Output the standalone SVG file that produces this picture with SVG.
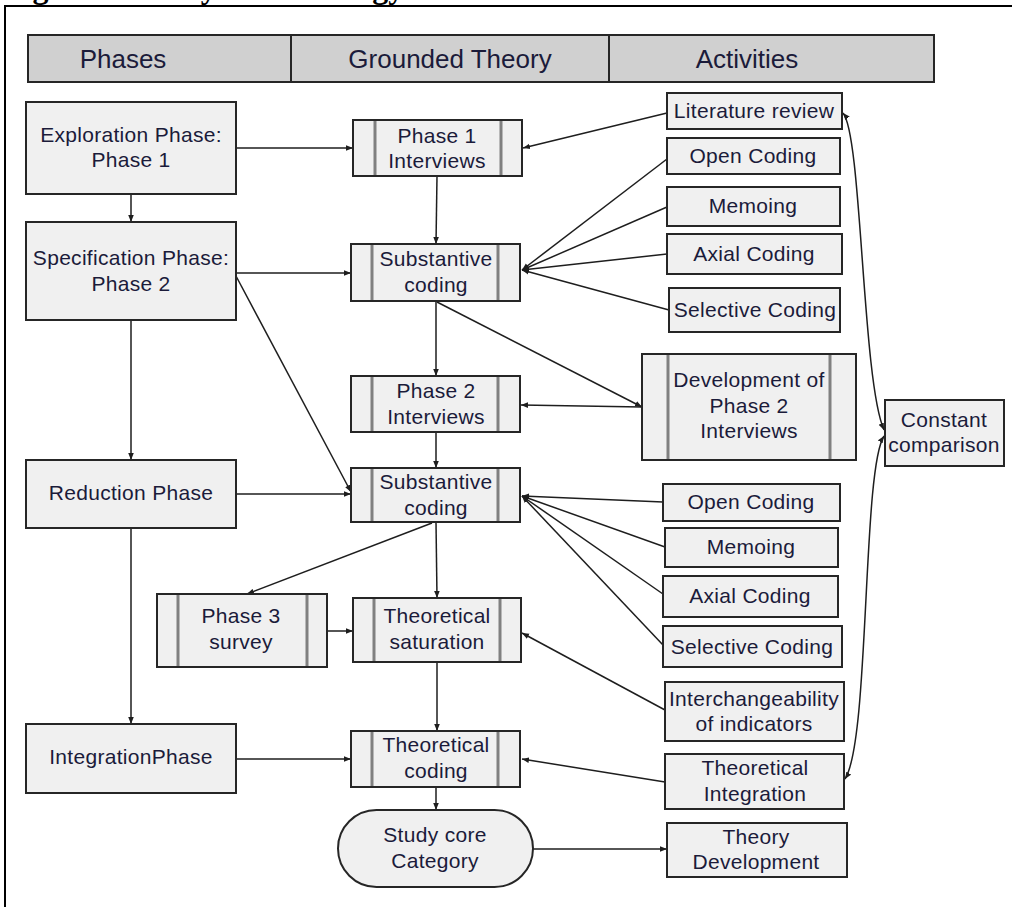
<svg xmlns="http://www.w3.org/2000/svg" width="1012" height="907" viewBox="0 0 1012 907">
<style>
.bx{fill:#f0f0f0;stroke:#262626;stroke-width:2}
.hd{fill:#d0d0d0;stroke:#262626;stroke-width:2}
.bar{stroke:#808080;stroke-width:3}
.c{fill:none;stroke:#1e1e1e;stroke-width:1.5}
.t{font-family:"Liberation Sans",Arial,sans-serif;font-size:21px;fill:#1b1b3a;text-anchor:middle;letter-spacing:0.3px}
.h{font-family:"Liberation Sans",Arial,sans-serif;font-size:26px;fill:#1b1b3a;text-anchor:middle}
.ttl{font-family:"Liberation Serif","Times New Roman",serif;font-size:32px;font-weight:bold;fill:#000}
</style>
<defs>
<marker id="ah" viewBox="0 0 10 10" refX="10" refY="5" markerWidth="7" markerHeight="7" markerUnits="userSpaceOnUse" orient="auto-start-reverse">
<path d="M0,1 L10,5 L0,9 z" fill="#1e1e1e"/>
</marker>
</defs>
<rect width="1012" height="907" fill="#fff"/>
<text class="ttl" x="4" y="-2">Figure 3: Study Methodology</text>
<rect x="5" y="6" width="1015" height="910" fill="none" stroke="#000" stroke-width="2"/>

<g id="header">
<rect class="hd" x="28" y="35" width="906" height="47"/>
<line x1="291" y1="35" x2="291" y2="82" stroke="#262626" stroke-width="2"/>
<line x1="609" y1="35" x2="609" y2="82" stroke="#262626" stroke-width="2"/>
<text class="h" x="123" y="68">Phases</text>
<text class="h" x="450" y="68">Grounded Theory</text>
<text class="h" x="747" y="68">Activities</text>
</g>

<g id="connectors">
<path class="c" marker-end="url(#ah)" d="M236,148 H353"/>
<path class="c" marker-end="url(#ah)" d="M667,113 L523,148"/>
<path class="c" marker-end="url(#ah)" d="M437,176 L436,244"/>
<path class="c" marker-end="url(#ah)" d="M131,194 V222"/>
<path class="c" marker-end="url(#ah)" d="M236,273 H351"/>
<path class="c" marker-end="url(#ah)" d="M236,276 L351,492"/>
<path class="c" marker-end="url(#ah)" d="M131,320 V460"/>
<path class="c" marker-end="url(#ah)" d="M667,159 L522,270"/>
<path class="c" marker-end="url(#ah)" d="M667,207 L522,270"/>
<path class="c" marker-end="url(#ah)" d="M667,254 L522,270"/>
<path class="c" marker-end="url(#ah)" d="M669,310 L522,270"/>
<path class="c" marker-end="url(#ah)" d="M436,301 V376"/>
<path class="c" marker-end="url(#ah)" d="M437,302 L642,407"/>
<path class="c" marker-end="url(#ah)" d="M642,407 L521,405"/>
<path class="c" marker-end="url(#ah)" d="M436,432 V468"/>
<path class="c" marker-end="url(#ah)" d="M236,494 H351"/>
<path class="c" marker-end="url(#ah)" d="M663,502 L522,496"/>
<path class="c" marker-end="url(#ah)" d="M665,547 L522,496"/>
<path class="c" marker-end="url(#ah)" d="M663,594 L522,496"/>
<path class="c" marker-end="url(#ah)" d="M663,645 L522,496"/>
<path class="c" marker-end="url(#ah)" d="M432,523 L247,594"/>
<path class="c" marker-end="url(#ah)" d="M436,522 L437,598"/>
<path class="c" marker-end="url(#ah)" d="M327,631 H353"/>
<path class="c" marker-end="url(#ah)" d="M665,710 L522,633"/>
<path class="c" marker-end="url(#ah)" d="M437,662 V731"/>
<path class="c" marker-end="url(#ah)" d="M131,528 V724"/>
<path class="c" marker-end="url(#ah)" d="M236,759 H351"/>
<path class="c" marker-end="url(#ah)" d="M665,782 L522,759"/>
<path class="c" marker-end="url(#ah)" d="M436,787 V810"/>
<path class="c" marker-end="url(#ah)" d="M533,849 H667"/>
<path class="c" marker-start="url(#ah)" marker-end="url(#ah)" d="M884,430 C862,380 862,135 843,113"/>
<path class="c" marker-start="url(#ah)" marker-end="url(#ah)" d="M884,436 C862,470 870,740 845,779"/>
</g>

<g id="exploration">
<rect class="bx" x="26" y="102" width="210" height="92"/>
<text class="t" x="131" y="142">Exploration Phase:</text>
<text class="t" x="131" y="167">Phase 1</text>
</g>
<g id="specification">
<rect class="bx" x="26" y="222" width="210" height="98"/>
<text class="t" x="131" y="265">Specification Phase:</text>
<text class="t" x="131" y="291">Phase 2</text>
</g>
<g id="reduction">
<rect class="bx" x="26" y="460" width="210" height="68"/>
<text class="t" x="131" y="500">Reduction Phase</text>
</g>
<g id="integration">
<rect class="bx" x="26" y="724" width="210" height="69"/>
<text class="t" x="131" y="764">IntegrationPhase</text>
</g>

<g id="phase1-interviews">
<rect class="bx" x="353" y="120" width="169" height="56"/>
<line class="bar" x1="375" y1="121" x2="375" y2="175"/>
<line class="bar" x1="501" y1="121" x2="501" y2="175"/>
<text class="t" x="437" y="143">Phase 1</text>
<text class="t" x="437" y="168">Interviews</text>
</g>
<g id="substantive-coding-1">
<rect class="bx" x="351" y="244" width="169" height="57"/>
<line class="bar" x1="372" y1="245" x2="372" y2="300"/>
<line class="bar" x1="498" y1="245" x2="498" y2="300"/>
<text class="t" x="436" y="266">Substantive</text>
<text class="t" x="436" y="292">coding</text>
</g>
<g id="phase2-interviews">
<rect class="bx" x="351" y="376" width="169" height="56"/>
<line class="bar" x1="372" y1="377" x2="372" y2="431"/>
<line class="bar" x1="498" y1="377" x2="498" y2="431"/>
<text class="t" x="436" y="398">Phase 2</text>
<text class="t" x="436" y="424">Interviews</text>
</g>
<g id="substantive-coding-2">
<rect class="bx" x="351" y="468" width="169" height="54"/>
<line class="bar" x1="372" y1="469" x2="372" y2="521"/>
<line class="bar" x1="498" y1="469" x2="498" y2="521"/>
<text class="t" x="436" y="489">Substantive</text>
<text class="t" x="436" y="515">coding</text>
</g>
<g id="phase3-survey">
<rect class="bx" x="157" y="594" width="170" height="73"/>
<line class="bar" x1="178" y1="595" x2="178" y2="666"/>
<line class="bar" x1="307" y1="595" x2="307" y2="666"/>
<text class="t" x="241" y="623">Phase 3</text>
<text class="t" x="241" y="649">survey</text>
</g>
<g id="theoretical-saturation">
<rect class="bx" x="353" y="598" width="168" height="64"/>
<line class="bar" x1="374" y1="599" x2="374" y2="661"/>
<line class="bar" x1="500" y1="599" x2="500" y2="661"/>
<text class="t" x="437" y="623">Theoretical</text>
<text class="t" x="437" y="649">saturation</text>
</g>
<g id="theoretical-coding">
<rect class="bx" x="351" y="731" width="169" height="56"/>
<line class="bar" x1="372" y1="732" x2="372" y2="786"/>
<line class="bar" x1="498" y1="732" x2="498" y2="786"/>
<text class="t" x="436" y="752">Theoretical</text>
<text class="t" x="436" y="778">coding</text>
</g>
<g id="study-core">
<rect class="bx" x="338" y="810" width="195" height="77" rx="38.5"/>
<text class="t" x="435" y="842">Study core</text>
<text class="t" x="435" y="868">Category</text>
</g>

<g id="literature-review">
<rect class="bx" x="667" y="93" width="175" height="36"/>
<text class="t" x="754" y="118">Literature review</text>
</g>
<g id="open-coding-1">
<rect class="bx" x="667" y="138" width="173" height="36"/>
<text class="t" x="753" y="163">Open Coding</text>
</g>
<g id="memoing-1">
<rect class="bx" x="667" y="187" width="173" height="39"/>
<text class="t" x="753" y="213">Memoing</text>
</g>
<g id="axial-coding-1">
<rect class="bx" x="667" y="234" width="175" height="40"/>
<text class="t" x="754" y="261">Axial Coding</text>
</g>
<g id="selective-coding-1">
<rect class="bx" x="669" y="288" width="171" height="44"/>
<text class="t" x="755" y="317">Selective Coding</text>
</g>
<g id="development-phase2">
<rect class="bx" x="642" y="354" width="214" height="106"/>
<line class="bar" x1="668" y1="355" x2="668" y2="459"/>
<line class="bar" x1="830" y1="355" x2="830" y2="459"/>
<text class="t" x="749" y="387">Development of</text>
<text class="t" x="749" y="413">Phase 2</text>
<text class="t" x="749" y="438">Interviews</text>
</g>
<g id="constant-comparison">
<rect class="bx" x="885" y="400" width="119" height="66"/>
<text class="t" x="944" y="427">Constant</text>
<text class="t" x="944" y="452">comparison</text>
</g>
<g id="open-coding-2">
<rect class="bx" x="663" y="484" width="177" height="37"/>
<text class="t" x="751" y="509">Open Coding</text>
</g>
<g id="memoing-2">
<rect class="bx" x="665" y="528" width="173" height="39"/>
<text class="t" x="751" y="554">Memoing</text>
</g>
<g id="axial-coding-2">
<rect class="bx" x="663" y="576" width="175" height="41"/>
<text class="t" x="750" y="603">Axial Coding</text>
</g>
<g id="selective-coding-2">
<rect class="bx" x="663" y="626" width="179" height="41"/>
<text class="t" x="752" y="654">Selective Coding</text>
</g>
<g id="interchangeability">
<rect class="bx" x="665" y="682" width="179" height="59"/>
<text class="t" x="754" y="706">Interchangeability</text>
<text class="t" x="754" y="731">of indicators</text>
</g>
<g id="theoretical-integration">
<rect class="bx" x="665" y="754" width="179" height="55"/>
<text class="t" x="755" y="775">Theoretical</text>
<text class="t" x="755" y="801">Integration</text>
</g>
<g id="theory-development">
<rect class="bx" x="667" y="823" width="180" height="54"/>
<text class="t" x="756" y="844">Theory</text>
<text class="t" x="756" y="869">Development</text>
</g>
</svg>
